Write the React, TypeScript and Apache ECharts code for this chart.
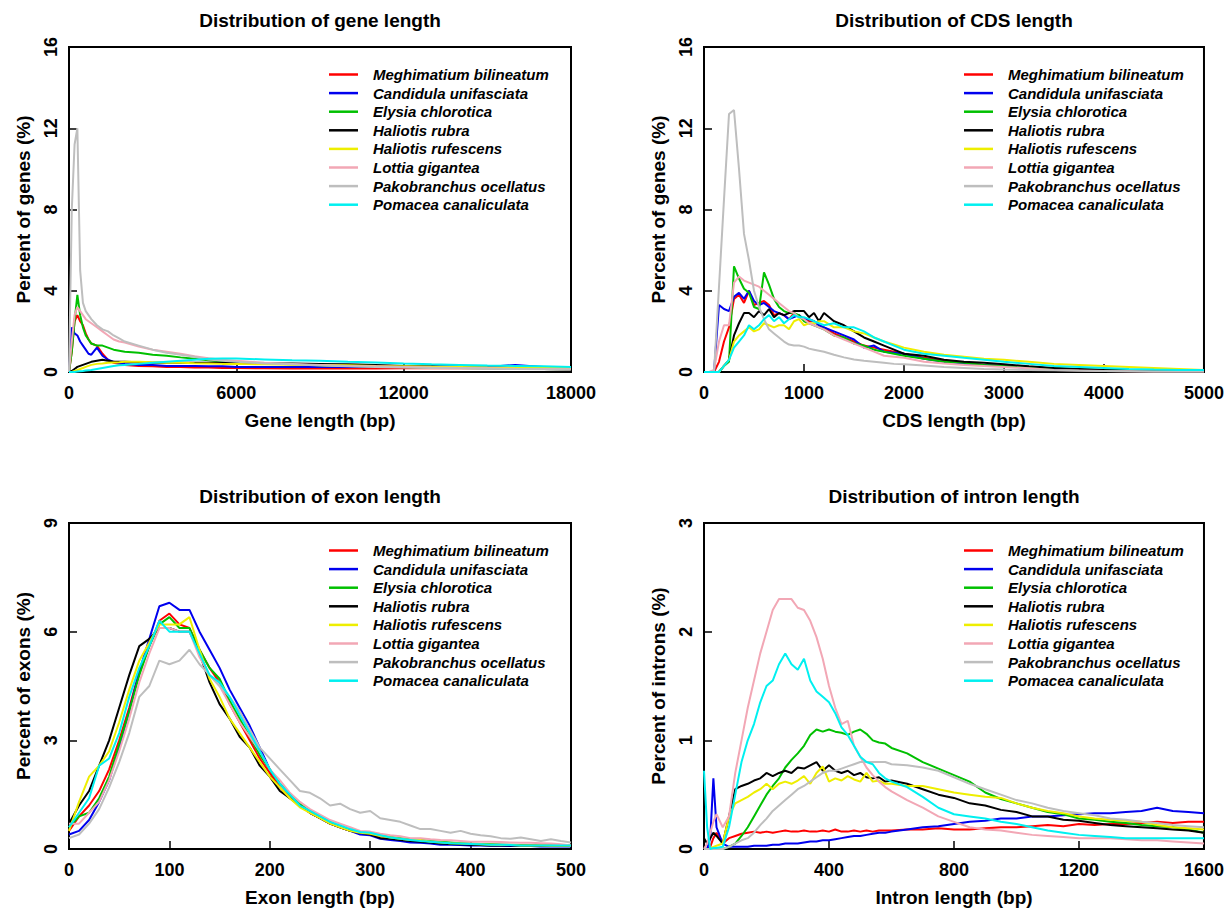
import React, { useEffect, useRef } from 'react';
import * as echarts from 'echarts';

const species = [
  'Meghimatium bilineatum',
  'Candidula unifasciata',
  'Elysia chlorotica',
  'Haliotis rubra',
  'Haliotis rufescens',
  'Lottia gigantea',
  'Pakobranchus ocellatus',
  'Pomacea canaliculata',
];
const colors = ['#FF0000', '#0000EE', '#00C000', '#000000', '#EEEE00', '#F2A7B5', '#BEBEBE', '#00F0F0'];

const panelTitles = ['Distribution of gene length', 'Distribution of CDS length', 'Distribution of exon length', 'Distribution of intron length'];
const xNames = ['Gene length (bp)', 'CDS length (bp)', 'Exon length (bp)', 'Intron length (bp)'];
const yNames = ['Percent of genes (%)', 'Percent of genes (%)', 'Percent of exons (%)', 'Percent of introns (%)'];
const xMax = [18000, 5000, 500, 1600];
const xStep = [6000, 1000, 100, 400];
const yMax = [16, 16, 9, 3];
const yStep = [4, 4, 3, 1];

// ---- Gene length ----
const geneX = [0, 100, 200, 300, 400, 500, 600, 700, 800, 1000, 1200, 1400, 1600, 1800, 2000, 2500, 3000, 3500, 4000, 4500, 5000, 5500, 6000, 7000, 8000, 9000, 10000, 11000, 12000, 13000, 14000, 15000, 16000, 17000, 18000];
const geneMeg = [0, 1.0, 2.5, 2.8, 2.5, 2.3, 1.9, 1.6, 1.4, 1.3, 0.9, 0.6, 0.45, 0.4, 0.35, 0.3, 0.28, 0.25, 0.25, 0.22, 0.22, 0.2, 0.2, 0.18, 0.17, 0.17, 0.18, 0.17, 0.18, 0.18, 0.2, 0.18, 0.2, 0.2, 0.22];
const geneCan = [0, 2.2, 1.9, 1.8, 1.5, 1.3, 1.1, 0.9, 0.85, 1.2, 0.8, 0.6, 0.5, 0.45, 0.4, 0.35, 0.35, 0.3, 0.3, 0.3, 0.28, 0.28, 0.25, 0.25, 0.25, 0.25, 0.25, 0.25, 0.25, 0.25, 0.28, 0.25, 0.35, 0.25, 0.25];
const geneEly = [0, 1.0, 2.5, 3.8, 2.8, 2.2, 1.8, 1.6, 1.4, 1.3, 1.3, 1.2, 1.1, 1.05, 1.0, 0.95, 0.85, 0.8, 0.72, 0.65, 0.58, 0.52, 0.48, 0.42, 0.38, 0.33, 0.3, 0.27, 0.25, 0.22, 0.2, 0.18, 0.16, 0.15, 0.14];
const geneHru = [0, 0.05, 0.15, 0.25, 0.3, 0.35, 0.4, 0.45, 0.5, 0.55, 0.6, 0.55, 0.5, 0.5, 0.5, 0.48, 0.45, 0.45, 0.45, 0.45, 0.45, 0.45, 0.45, 0.43, 0.42, 0.4, 0.38, 0.35, 0.3, 0.28, 0.25, 0.2, 0.18, 0.15, 0.12];
const geneHrf = [0, 0, 0.05, 0.1, 0.15, 0.2, 0.25, 0.3, 0.35, 0.4, 0.42, 0.45, 0.47, 0.48, 0.5, 0.5, 0.48, 0.46, 0.45, 0.43, 0.42, 0.4, 0.4, 0.38, 0.36, 0.35, 0.33, 0.3, 0.28, 0.26, 0.25, 0.23, 0.22, 0.2, 0.2];
const geneLot = [0, 1.5, 2.8, 3.2, 3.0, 2.8, 2.6, 2.5, 2.4, 2.2, 2.0, 1.8, 1.6, 1.5, 1.45, 1.25, 1.1, 1.0, 0.9, 0.78, 0.68, 0.6, 0.55, 0.45, 0.4, 0.35, 0.3, 0.28, 0.25, 0.22, 0.2, 0.18, 0.16, 0.15, 0.14];
const genePak = [0, 8.0, 11.2, 12.0, 5.0, 3.4, 3.0, 2.8, 2.6, 2.3, 2.1, 2.0, 1.8, 1.65, 1.5, 1.3, 1.1, 0.95, 0.85, 0.75, 0.62, 0.55, 0.5, 0.42, 0.38, 0.32, 0.28, 0.25, 0.22, 0.2, 0.18, 0.16, 0.15, 0.13, 0.12];
const genePom = [0, 0, 0, 0.02, 0.04, 0.05, 0.07, 0.09, 0.1, 0.15, 0.2, 0.25, 0.3, 0.33, 0.35, 0.4, 0.45, 0.5, 0.55, 0.6, 0.65, 0.66, 0.66, 0.62, 0.58, 0.55, 0.5, 0.47, 0.42, 0.38, 0.35, 0.32, 0.3, 0.28, 0.25];

// ---- CDS length ----
const cdsX = [0, 50, 100, 150, 200, 250, 300, 350, 400, 450, 500, 550, 600, 650, 700, 750, 800, 850, 900, 950, 1000, 1050, 1100, 1150, 1200, 1300, 1400, 1500, 1600, 1700, 1800, 1900, 2000, 2200, 2400, 2600, 2800, 3000, 3250, 3500, 3750, 4000, 4250, 4500, 4750, 5000];
const cdsMeg = [0, 0, 0, 0.5, 1.5, 2.2, 3.6, 3.8, 3.4, 4.0, 3.3, 3.4, 3.5, 3.3, 2.8, 2.9, 2.8, 2.6, 2.9, 2.7, 2.6, 2.5, 2.5, 2.3, 2.2, 1.9, 1.7, 1.5, 1.3, 1.2, 1.1, 1.0, 0.9, 0.7, 0.55, 0.45, 0.35, 0.3, 0.22, 0.15, 0.12, 0.1, 0.08, 0.06, 0.05, 0.05];
const cdsCan = [0, 0, 0, 3.3, 3.1, 3.0, 3.7, 3.9, 3.6, 4.0, 3.5, 3.3, 3.4, 3.2, 3.0, 2.9, 2.8, 2.6, 2.7, 2.8, 2.6, 2.6, 2.5, 2.3, 2.2, 2.0, 1.8, 1.6, 1.2, 1.3, 1.0, 0.95, 0.9, 0.65, 0.5, 0.42, 0.35, 0.3, 0.2, 0.15, 0.12, 0.1, 0.08, 0.06, 0.05, 0.05];
const cdsEly = [0, 0, 0, 0, 0.3, 0.5, 5.2, 4.6, 4.1, 3.9, 3.2, 3.1, 4.9, 4.3, 3.6, 3.2, 3.0, 2.9, 2.9, 2.8, 2.5, 2.4, 2.3, 2.2, 2.1, 1.8, 1.7, 1.4, 1.3, 1.1, 1.0, 0.9, 0.8, 0.65, 0.5, 0.45, 0.35, 0.3, 0.22, 0.18, 0.13, 0.1, 0.08, 0.06, 0.05, 0.05];
const cdsHru = [0, 0, 0, 0, 0.3, 0.6, 1.8, 2.4, 2.9, 2.9, 2.7, 3.0, 2.8, 3.1, 2.7, 2.9, 2.8, 2.9, 3.0, 3.0, 3.0, 2.7, 2.9, 2.5, 2.9, 2.5, 2.3, 2.0, 1.7, 1.5, 1.3, 1.1, 0.9, 0.8, 0.6, 0.5, 0.45, 0.38, 0.28, 0.2, 0.15, 0.1, 0.08, 0.06, 0.05, 0.05];
const cdsHrf = [0, 0, 0, 0, 0.3, 0.6, 1.5, 1.8, 2.0, 2.2, 2.0, 2.1, 2.4, 2.3, 2.2, 2.3, 2.3, 2.1, 2.5, 2.6, 2.3, 2.4, 2.4, 2.5, 2.5, 2.2, 2.2, 2.0, 1.9, 1.7, 1.5, 1.35, 1.2, 1.0, 0.85, 0.75, 0.65, 0.6, 0.5, 0.4, 0.35, 0.3, 0.25, 0.2, 0.15, 0.1];
const cdsLot = [0, 0, 0.1, 1.5, 2.3, 2.3, 4.4, 4.7, 4.5, 4.4, 4.3, 4.2, 4.0, 3.8, 3.6, 3.4, 3.2, 3.0, 2.9, 2.7, 2.6, 2.4, 2.3, 2.2, 2.1, 1.8, 1.6, 1.4, 1.2, 1.0, 0.8, 0.75, 0.7, 0.5, 0.42, 0.35, 0.3, 0.25, 0.18, 0.1, 0.08, 0.05, 0.04, 0.03, 0.03, 0.03];
const cdsPak = [0, 0, 0, 4.2, 8.5, 12.7, 12.9, 10.0, 6.8, 5.5, 4.0, 3.2, 2.6, 2.1, 1.9, 1.7, 1.5, 1.35, 1.3, 1.3, 1.25, 1.15, 1.1, 1.05, 1.0, 0.85, 0.72, 0.62, 0.55, 0.5, 0.45, 0.4, 0.38, 0.32, 0.25, 0.2, 0.15, 0.12, 0.1, 0.08, 0.06, 0.05, 0.04, 0.03, 0.03, 0.03];
const cdsPom = [0, 0, 0, 0, 0.3, 0.6, 1.2, 1.5, 1.8, 2.3, 2.1, 2.3, 2.6, 2.8, 2.5, 2.7, 2.4, 2.6, 2.8, 2.7, 2.7, 2.6, 2.5, 2.4, 2.3, 2.4, 2.2, 2.2, 2.0, 1.7, 1.5, 1.3, 1.1, 0.9, 0.8, 0.7, 0.6, 0.5, 0.4, 0.3, 0.25, 0.2, 0.15, 0.12, 0.1, 0.1];

// ---- Exon length ----
const exonX = [0, 10, 20, 30, 40, 50, 60, 70, 80, 90, 100, 110, 120, 130, 140, 150, 160, 170, 180, 190, 200, 210, 220, 230, 240, 250, 260, 270, 280, 290, 300, 310, 320, 330, 340, 350, 360, 370, 380, 390, 400, 410, 420, 430, 440, 450, 460, 470, 480, 490, 500];
const exonMeg = [0.5, 0.9, 1.2, 1.6, 2.2, 3.0, 3.9, 4.9, 5.6, 6.3, 6.5, 6.2, 6.1, 5.5, 5.0, 4.6, 4.0, 3.5, 3.0, 2.5, 2.1, 1.7, 1.4, 1.2, 1.0, 0.85, 0.7, 0.6, 0.5, 0.45, 0.42, 0.35, 0.3, 0.27, 0.24, 0.22, 0.2, 0.18, 0.16, 0.15, 0.14, 0.13, 0.12, 0.12, 0.11, 0.1, 0.1, 0.1, 0.09, 0.09, 0.09];
const exonCan = [0.4, 0.5, 0.8, 1.3, 1.9, 2.8, 3.8, 4.9, 5.8, 6.7, 6.8, 6.6, 6.6, 6.0, 5.5, 5.0, 4.4, 3.9, 3.4, 2.8, 2.2, 1.8, 1.5, 1.2, 1.0, 0.85, 0.7, 0.6, 0.5, 0.4, 0.38, 0.28, 0.25, 0.22, 0.18, 0.17, 0.15, 0.12, 0.12, 0.11, 0.1, 0.1, 0.09, 0.09, 0.08, 0.08, 0.08, 0.07, 0.07, 0.07, 0.07];
const exonEly = [0.6, 0.9, 1.0, 1.4, 2.0, 2.9, 3.8, 4.8, 5.6, 6.2, 6.4, 6.1, 6.1, 5.5, 5.0, 4.7, 4.1, 3.6, 3.1, 2.6, 2.2, 1.8, 1.5, 1.25, 1.05, 0.9, 0.75, 0.62, 0.52, 0.45, 0.45, 0.38, 0.33, 0.3, 0.27, 0.25, 0.22, 0.2, 0.18, 0.16, 0.15, 0.14, 0.13, 0.12, 0.12, 0.11, 0.1, 0.1, 0.1, 0.09, 0.09];
const exonHru = [0.7, 1.2, 1.6, 2.3, 3.0, 3.9, 4.8, 5.6, 5.8, 6.1, 6.1, 6.0, 6.0, 5.4, 4.6, 4.0, 3.6, 3.1, 2.8, 2.3, 2.0, 1.6, 1.4, 1.2, 1.0, 0.85, 0.7, 0.6, 0.5, 0.45, 0.4, 0.3, 0.28, 0.25, 0.22, 0.2, 0.18, 0.15, 0.14, 0.13, 0.12, 0.11, 0.1, 0.1, 0.1, 0.09, 0.09, 0.08, 0.08, 0.08, 0.08];
const exonHrf = [0.5, 1.3, 2.0, 2.3, 2.7, 3.5, 4.4, 5.2, 5.7, 6.2, 6.2, 6.2, 6.4, 5.5, 4.7, 4.2, 3.6, 3.2, 2.8, 2.4, 2.0, 1.7, 1.4, 1.15, 1.0, 0.85, 0.7, 0.6, 0.5, 0.45, 0.42, 0.36, 0.32, 0.28, 0.25, 0.25, 0.2, 0.18, 0.16, 0.15, 0.14, 0.13, 0.12, 0.11, 0.11, 0.1, 0.1, 0.1, 0.09, 0.09, 0.09];
const exonLot = [0.7, 0.7, 1.0, 1.3, 1.9, 2.7, 3.6, 4.6, 5.4, 6.1, 6.1, 6.0, 6.0, 5.3, 4.8, 4.5, 4.0, 3.5, 3.1, 2.7, 2.2, 1.9, 1.55, 1.3, 1.1, 0.95, 0.8, 0.7, 0.6, 0.5, 0.48, 0.42, 0.38, 0.35, 0.3, 0.3, 0.27, 0.25, 0.24, 0.22, 0.2, 0.2, 0.2, 0.19, 0.18, 0.17, 0.17, 0.16, 0.15, 0.13, 0.1];
const exonPak = [0.3, 0.4, 0.7, 1.1, 1.7, 2.4, 3.2, 4.2, 4.5, 5.2, 5.1, 5.2, 5.5, 5.1, 4.8, 4.5, 4.2, 3.8, 3.3, 2.8, 2.5, 2.2, 1.9, 1.6, 1.55, 1.4, 1.2, 1.25, 1.1, 1.0, 1.05, 0.85, 0.8, 0.75, 0.65, 0.55, 0.55, 0.5, 0.45, 0.5, 0.42, 0.38, 0.35, 0.3, 0.28, 0.32, 0.27, 0.22, 0.27, 0.22, 0.18];
const exonPom = [0.6, 1.0, 1.4, 2.3, 2.5, 3.2, 4.2, 5.0, 5.6, 6.3, 6.0, 6.0, 6.0, 5.4, 4.8, 4.6, 4.2, 3.7, 3.2, 2.7, 2.2, 1.8, 1.5, 1.2, 1.05, 0.9, 0.75, 0.65, 0.55, 0.47, 0.45, 0.38, 0.32, 0.28, 0.25, 0.22, 0.2, 0.18, 0.16, 0.15, 0.14, 0.13, 0.12, 0.12, 0.11, 0.1, 0.1, 0.1, 0.1, 0.1, 0.1];

// ---- Intron length ----
const intronX = [0, 10, 20, 30, 40, 60, 80, 100, 120, 140, 160, 180, 200, 220, 240, 260, 280, 300, 320, 340, 360, 380, 400, 420, 440, 460, 480, 500, 520, 540, 560, 580, 600, 650, 700, 750, 800, 850, 900, 950, 1000, 1050, 1100, 1150, 1200, 1250, 1300, 1350, 1400, 1450, 1500, 1550, 1600];
const intronMeg = [0, 0, 0.02, 0.1, 0.15, 0.05, 0.1, 0.12, 0.14, 0.15, 0.16, 0.15, 0.16, 0.15, 0.16, 0.17, 0.16, 0.16, 0.17, 0.16, 0.16, 0.17, 0.16, 0.18, 0.16, 0.16, 0.17, 0.16, 0.17, 0.16, 0.17, 0.17, 0.17, 0.18, 0.18, 0.19, 0.18, 0.18, 0.19, 0.2, 0.2, 0.21, 0.22, 0.21, 0.23, 0.22, 0.23, 0.23, 0.24, 0.25, 0.24, 0.25, 0.25];
const intronCan = [0, 0, 0.1, 0.65, 0.2, 0.05, 0.02, 0.02, 0.02, 0.02, 0.03, 0.03, 0.03, 0.04, 0.04, 0.05, 0.05, 0.05, 0.06, 0.07, 0.07, 0.08, 0.08, 0.09, 0.1, 0.11, 0.12, 0.12, 0.13, 0.14, 0.15, 0.15, 0.16, 0.18, 0.2, 0.21, 0.23, 0.25, 0.26, 0.28, 0.28, 0.3, 0.3, 0.31, 0.32, 0.33, 0.33, 0.34, 0.35, 0.38, 0.35, 0.34, 0.33];
const intronEly = [0, 0, 0, 0, 0, 0, 0.02, 0.05, 0.12, 0.2, 0.3, 0.4, 0.5, 0.58, 0.65, 0.75, 0.82, 0.88, 0.95, 1.05, 1.1, 1.08, 1.1, 1.08, 1.07, 1.05, 1.08, 1.1, 1.06, 1.0, 0.98, 0.97, 0.93, 0.88, 0.8, 0.74, 0.68, 0.62, 0.52, 0.46, 0.42, 0.38, 0.34, 0.32, 0.28, 0.27, 0.25, 0.24, 0.22, 0.21, 0.2, 0.18, 0.15];
const intronHru = [0.1, 0.05, 0.1, 0.15, 0.12, 0.05, 0.3, 0.55, 0.58, 0.6, 0.63, 0.65, 0.7, 0.67, 0.7, 0.72, 0.7, 0.75, 0.74, 0.77, 0.8, 0.72, 0.77, 0.72, 0.7, 0.72, 0.68, 0.7, 0.66, 0.65, 0.66, 0.62, 0.63, 0.6, 0.55, 0.5, 0.47, 0.42, 0.4, 0.36, 0.34, 0.3, 0.3, 0.27, 0.26, 0.24, 0.22, 0.21, 0.2, 0.19, 0.18, 0.17, 0.15];
const intronHrf = [0, 0, 0, 0.02, 0.03, 0.05, 0.3, 0.42, 0.45, 0.48, 0.52, 0.55, 0.6, 0.55, 0.6, 0.62, 0.6, 0.63, 0.67, 0.6, 0.7, 0.76, 0.62, 0.65, 0.63, 0.67, 0.64, 0.62, 0.7, 0.62, 0.63, 0.6, 0.6, 0.58, 0.58, 0.55, 0.52, 0.5, 0.48, 0.47, 0.42, 0.38, 0.35, 0.33, 0.3, 0.28, 0.27, 0.26, 0.25, 0.22, 0.2, 0.19, 0.18];
const intronLot = [0, 0.05, 0.15, 0.25, 0.32, 0.2, 0.3, 0.7, 1.0, 1.3, 1.55, 1.8, 2.0, 2.2, 2.3, 2.3, 2.3, 2.22, 2.2, 2.1, 1.95, 1.75, 1.5, 1.3, 1.15, 1.18, 0.95, 0.85, 0.75, 0.68, 0.62, 0.57, 0.53, 0.45, 0.38, 0.3, 0.25, 0.2, 0.18, 0.17, 0.15, 0.13, 0.12, 0.11, 0.1, 0.1, 0.1, 0.09, 0.08, 0.08, 0.07, 0.06, 0.05];
const intronPak = [0, 0, 0, 0, 0, 0, 0.02, 0.05, 0.08, 0.1, 0.15, 0.22, 0.28, 0.35, 0.4, 0.45, 0.5, 0.55, 0.58, 0.62, 0.66, 0.7, 0.72, 0.72, 0.74, 0.76, 0.78, 0.8, 0.8, 0.8, 0.8, 0.8, 0.78, 0.77, 0.75, 0.72, 0.66, 0.6, 0.55, 0.5, 0.45, 0.42, 0.38, 0.35, 0.33, 0.31, 0.28, 0.27, 0.25, 0.24, 0.22, 0.21, 0.2];
const intronPom = [0.72, 0.2, 0, 0.01, 0.01, 0.02, 0.2, 0.5, 0.8, 1.0, 1.15, 1.35, 1.5, 1.55, 1.7, 1.8, 1.7, 1.65, 1.75, 1.55, 1.45, 1.4, 1.35, 1.25, 1.12, 1.05, 0.95, 0.85, 0.8, 0.78, 0.7, 0.65, 0.62, 0.57, 0.48, 0.38, 0.32, 0.3, 0.28, 0.25, 0.23, 0.2, 0.17, 0.15, 0.13, 0.12, 0.11, 0.1, 0.1, 0.1, 0.1, 0.1, 0.1];

const panelX = [geneX, cdsX, exonX, intronX];
const panelY = [
  [geneMeg, geneCan, geneEly, geneHru, geneHrf, geneLot, genePak, genePom],
  [cdsMeg, cdsCan, cdsEly, cdsHru, cdsHrf, cdsLot, cdsPak, cdsPom],
  [exonMeg, exonCan, exonEly, exonHru, exonHrf, exonLot, exonPak, exonPom],
  [intronMeg, intronCan, intronEly, intronHru, intronHrf, intronLot, intronPak, intronPom],
];

const FONT = '"Liberation Sans", Arial, Helvetica, sans-serif';
const grids = [
  { left: 69, top: 47, width: 502, height: 325 },
  { left: 704, top: 47, width: 500, height: 325 },
  { left: 69, top: 523, width: 502, height: 326 },
  { left: 704, top: 523, width: 500, height: 326 },
];

export default function App() {
  const ref = useRef<HTMLDivElement>(null);
  useEffect(() => {
    if (!ref.current) return;
    const chart = echarts.init(ref.current, undefined, { renderer: 'svg' });
    const tickText = { color: '#000', fontWeight: 'bold', fontFamily: FONT, fontSize: 18 };
    const bigText = { color: '#000', fontWeight: 'bold', fontFamily: FONT, fontSize: 19 };
    const option: any = {
      animation: false,
      backgroundColor: '#fff',
      title: grids.map((g, i) => ({
        text: panelTitles[i],
        left: g.left + g.width / 2,
        top: g.top - 36,
        textAlign: 'center',
        padding: 0,
        textStyle: { ...bigText },
      })),
      legend: grids.map((g) => ({
        left: g.left + 260,
        top: g.top + 20,
        orient: 'vertical',
        icon: 'rect',
        itemWidth: 29,
        itemHeight: 2.5,
        itemGap: 3.6,
        padding: 0,
        selectedMode: false,
        data: species,
        textStyle: {
          color: '#000',
          fontFamily: FONT,
          fontSize: 15,
          fontStyle: 'italic',
          fontWeight: 'bold',
          lineHeight: 15,
          padding: [0, 0, 0, 10],
        },
      })),
      grid: grids.map((g) => ({
        ...g,
        show: true,
        borderColor: '#000',
        borderWidth: 2,
        backgroundColor: 'transparent',
      })),
      xAxis: grids.map((g, i) => ({
        type: 'value',
        gridIndex: i,
        min: 0,
        max: xMax[i],
        interval: xStep[i],
        name: xNames[i],
        nameLocation: 'middle',
        nameGap: 39,
        nameTextStyle: { ...bigText },
        axisLine: { show: true, lineStyle: { color: '#000', width: 2 } },
        axisTick: { show: true, inside: true, length: 8, lineStyle: { color: '#000', width: 1.5 } },
        axisLabel: { ...tickText, margin: 12, formatter: (v: number) => String(v) },
        splitLine: { show: false },
      })),
      yAxis: grids.map((g, i) => ({
        type: 'value',
        gridIndex: i,
        min: 0,
        max: yMax[i],
        interval: yStep[i],
        name: yNames[i],
        nameLocation: 'middle',
        nameGap: 36,
        nameTextStyle: { ...bigText },
        axisLine: { show: true, lineStyle: { color: '#000', width: 2 } },
        axisTick: { show: true, inside: true, length: 8, lineStyle: { color: '#000', width: 1.5 } },
        axisLabel: { ...tickText, margin: 9, rotate: 90, formatter: (v: number) => String(v) },
        splitLine: { show: false },
      })),
      series: panelY.flatMap((ys, i) =>
        ys.map((vals, j) => ({
          type: 'line',
          name: species[j],
          xAxisIndex: i,
          yAxisIndex: i,
          data: panelX[i].map((x, k) => [x, vals[k]]),
          showSymbol: false,
          symbol: 'none',
          silent: true,
          color: colors[j],
          lineStyle: { width: 2, color: colors[j] },
          itemStyle: { color: colors[j] },
        }))
      ),
    };
    chart.setOption(option);
    return () => chart.dispose();
  }, []);
  return <div ref={ref} style={{ position: 'fixed', left: 0, top: 0, width: 1227, height: 908 }} />;
}
